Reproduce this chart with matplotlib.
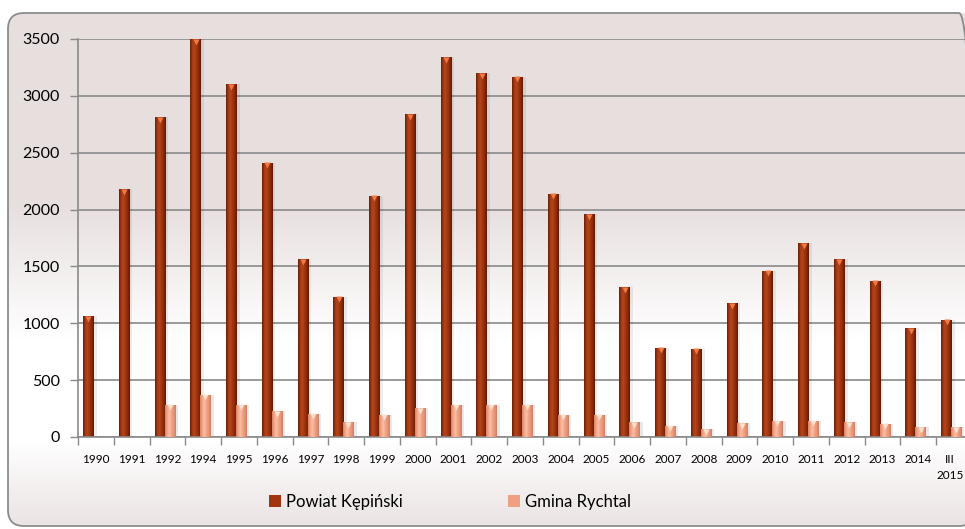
import numpy as np
import matplotlib
matplotlib.use("Agg")
import matplotlib.pyplot as plt
import matplotlib.transforms as mtransforms
from matplotlib.patches import FancyBboxPatch
from matplotlib.colors import to_rgb

plt.rcParams['font.family'] = ['Lato', 'DejaVu Sans']

# data
years = ['1990', '1991', '1992', '1994', '1995', '1996', '1997', '1998', '1999',
         '2000', '2001', '2002', '2003', '2004', '2005', '2006', '2007', '2008',
         '2009', '2010', '2011', '2012', '2013', '2014', 'III\n2015']
powiat = [1060, 2180, 2810, 3500, 3100, 2410, 1565, 1235, 2120, 2840, 3340, 3200,
          3170, 2140, 1960, 1315, 785, 775, 1175, 1460, 1705, 1565, 1375, 955, 1030]
gmina = [0, 0, 285, 370, 285, 225, 205, 130, 195, 255, 285, 285, 285, 195, 195,
         130, 100, 70, 120, 145, 145, 130, 115, 85, 85]
yticks = [0, 500, 1000, 1500, 2000, 2500, 3000, 3500]

W, H = 965, 529
fig = plt.figure(figsize=(W / 100, H / 100), dpi=100)

# background panel in pixel coordinates
bg = fig.add_axes([0, 0, 1, 1], zorder=0)
bg.set_xlim(0, W)
bg.set_ylim(0, H)
bg.axis('off')

pink_top = np.array(to_rgb('#e7dede'))
pink_bot = np.array(to_rgb('#ebe3e3'))
white = np.ones(3)
rows = np.arange(H)  # from top
t_top = np.clip((rows - 200) / 140.0, 0, 1)
t_bot = np.clip((rows - 440) / 85.0, 0, 1)
col = np.empty((H, 1, 3))
for i in range(H):
    if rows[i] < 440:
        c = pink_top * (1 - t_top[i]) + white * t_top[i]
    else:
        c = white * (1 - t_bot[i]) + pink_bot * t_bot[i]
    col[i, 0] = c
frame = FancyBboxPatch((8, 3), 975 - 8, 516 - 3,
                       boxstyle="round,pad=0,rounding_size=16",
                       facecolor='none', edgecolor='#8c8c8c', lw=1.3, zorder=3)
bg.add_patch(frame)
im = bg.imshow(col, extent=[0, W, 0, H], aspect='auto', zorder=1, origin='upper')
im.set_clip_path(frame)

# main chart
ax = fig.add_axes([78 / W, (H - 437) / H, (972 - 78) / W, 398 / H], zorder=2)
ax.patch.set_alpha(0)
n = len(years)
x = np.arange(n)

ax.set_ylim(0, 3500)
ax.set_yticks(yticks)
ax.yaxis.grid(True, color='#8a8a8a', lw=1.2, zorder=0)
ax.set_axisbelow(True)

# soft shadows
ax.bar(x - 0.15, powiat, 0.34, color='#000000', alpha=0.07, zorder=1, linewidth=0)
ax.bar(x + 0.12, gmina, 0.34, color='#000000', alpha=0.09, zorder=1, linewidth=0)

b1 = ax.bar(x - 0.21, powiat, 0.3, color='#a0350f', zorder=2, linewidth=0,
            label='Powiat Kępiński')
b2 = ax.bar(x + 0.06, gmina, 0.28, color='#f0a080', zorder=3, linewidth=0,
            label='Gmina Rychtal')


def grad(colors, m=40):
    cs = np.array([to_rgb(c) for c in colors])
    pos = np.linspace(0, 1, len(cs))
    t = np.linspace(0, 1, m)
    g = np.stack([np.interp(t, pos, cs[:, k]) for k in range(3)], axis=-1)
    return g[np.newaxis, :, :]


g1 = grad(['#6a1e07', '#a23a14', '#b4461c', '#a0350f', '#8a2a0b', '#5e1a06'])
g2 = grad(['#d98468', '#f4a486', '#fbc0a4', '#f3a384', '#e69477', '#c98068'])

for bars, g, cap in ((b1, g1, '#ef7a45'), (b2, g2, '#fde2d2')):
    for p in bars:
        h = p.get_height()
        if h <= 0:
            continue
        x0 = p.get_x()
        x1 = x0 + p.get_width()
        gi = ax.imshow(g, extent=[x0, x1, 0, h], aspect='auto',
                       zorder=p.get_zorder() + 0.1)
        gi.set_clip_path(p)
        ax.plot([x0 + p.get_width() / 2], [h - 22], marker='v', ms=4.5,
                color=cap, mec='none', zorder=p.get_zorder() + 0.2)

ax.set_xlim(-0.5, n - 0.5)
ax.set_ylim(0, 3500)

ax.set_xticks(np.arange(n + 1) - 0.5)
ax.set_xticklabels([])
ax.set_xticks(x, minor=True)
ax.set_xticklabels(years, minor=True, fontsize=8.5, linespacing=1.6)
ax.tick_params(axis='x', which='major', length=6, color='#8a8a8a', width=1)
ax.tick_params(axis='x', which='minor', length=0, pad=12)
ax.tick_params(axis='y', length=6, color='#8a8a8a', width=1, pad=7,
               labelsize=11.5)

# last label sits on the right edge; nudge it in a little
last = ax.get_xticklabels(minor=True)[-1]
last.set_transform(last.get_transform() +
                   mtransforms.ScaledTranslation(-4 / 100, 0, fig.dpi_scale_trans))

for s in ('top', 'right'):
    ax.spines[s].set_visible(False)
for s in ('left', 'bottom'):
    ax.spines[s].set_color('#8a8a8a')
    ax.spines[s].set_linewidth(1.2)

fig.legend(handles=[b1, b2], loc='center', bbox_to_anchor=(450 / W, (H - 502) / H),
           ncol=2, frameon=False, fontsize=12, handlelength=0.7, handleheight=0.7,
           handletextpad=0.3, columnspacing=6.3)

fig.savefig('out.png', dpi=100)
